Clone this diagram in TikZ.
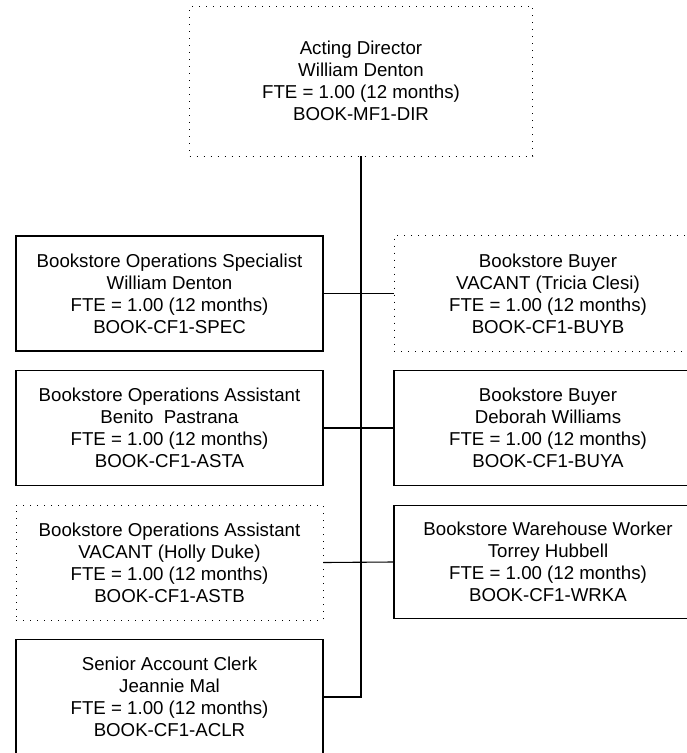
\documentclass[tikz,border=0pt]{standalone}
\usepackage{fontspec}
\setmainfont{Liberation Sans}
\begin{document}
\begin{tikzpicture}[x=1pt,y=-1pt,
  posbox/.style={draw, line width=1.1pt, minimum width=307pt, minimum height=115pt,
    align=center, inner sep=0pt, font=\fontsize{18.67}{22}\selectfont},
  vacbox/.style={posbox, line width=0.9pt, dash pattern=on 0.9pt off 6.1pt},
  conn/.style={line width=1.1pt},
  trunk/.style={line width=2pt}]
\useasboundingbox (0,0) rectangle (687,753);
\clip (0,0) rectangle (687,753);
\node[vacbox, minimum width=343pt, minimum height=150pt] (dir) at (361,81)
  {Acting Director\\William Denton\\FTE = 1.00 (12 months)\\BOOK-MF1-DIR};
\node[posbox] (spec) at (169.5,293.5)
  {Bookstore Operations Specialist\\William Denton\\FTE = 1.00 (12 months)\\BOOK-CF1-SPEC};
\node[vacbox, minimum width=308pt, minimum height=116pt] (buyb) at (548,293.5)
  {Bookstore Buyer\\VACANT (Tricia Clesi)\\FTE = 1.00 (12 months)\\BOOK-CF1-BUYB};
\node[posbox] (asta) at (169.5,428)
  {Bookstore Operations Assistant\\Benito~ Pastrana\\FTE = 1.00 (12 months)\\BOOK-CF1-ASTA};
\node[posbox, minimum width=308pt] (buya) at (548,428)
  {Bookstore Buyer\\Deborah Williams\\FTE = 1.00 (12 months)\\BOOK-CF1-BUYA};
\node[vacbox] (astb) at (169.5,562.5)
  {Bookstore Operations Assistant\\VACANT (Holly Duke)\\FTE = 1.00 (12 months)\\BOOK-CF1-ASTB};
\node[posbox, minimum width=308pt, minimum height=113pt] (wrka) at (548,562)
  {Bookstore Warehouse Worker\\Torrey Hubbell\\FTE = 1.00 (12 months)\\BOOK-CF1-WRKA};
\node[posbox] (aclr) at (169.5,697)
  {Senior Account Clerk\\Jeannie Mal\\FTE = 1.00 (12 months)\\BOOK-CF1-ACLR};
\coordinate (tb) at (361,697);
\draw[trunk] (dir.south) -- ([yshift=-0.5pt]tb);
\draw[conn] (spec.east) -- (buyb.west);
\draw[conn] (asta.east) -- (buya.west);
\draw[conn] (astb.east) -- (wrka.west);
\draw[conn] (aclr.east) -- (tb);
\end{tikzpicture}
\end{document}
